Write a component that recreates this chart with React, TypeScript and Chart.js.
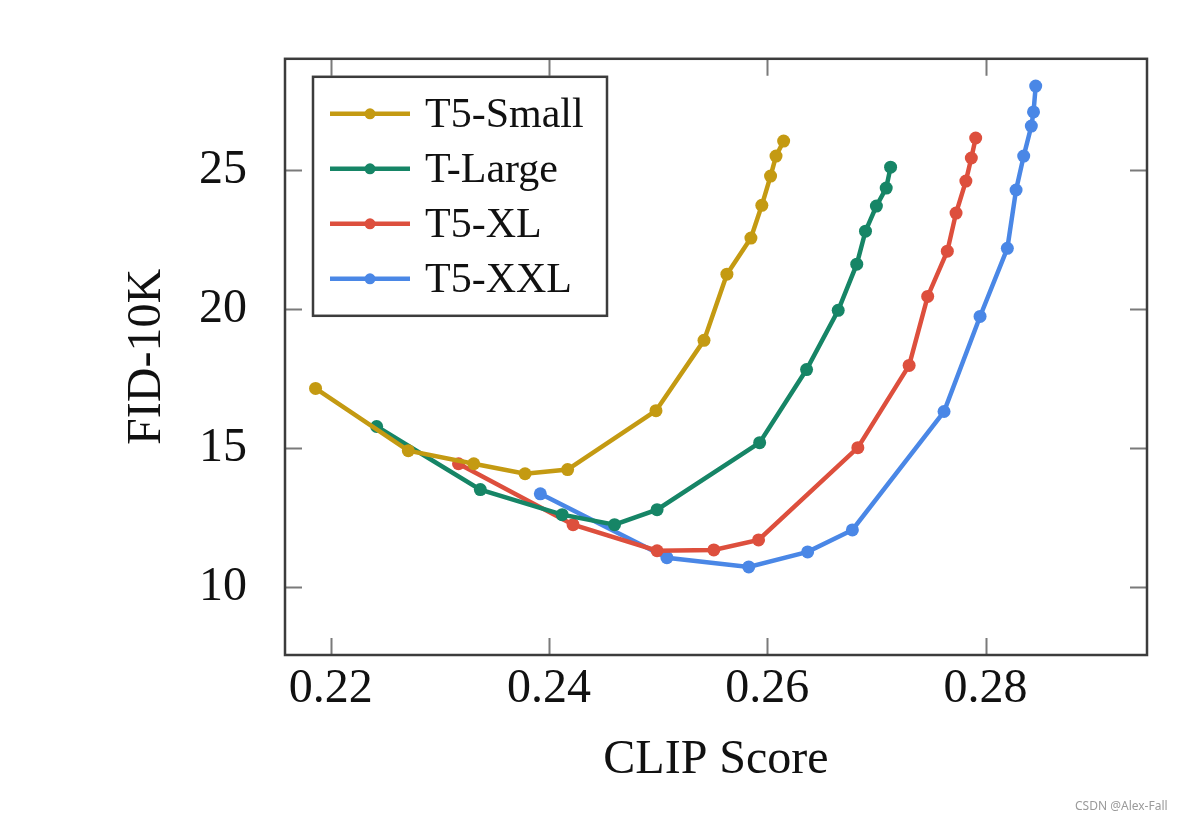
import React, { useEffect, useRef } from "react";
import { Chart, registerables } from "chart.js";

Chart.register(...registerables);

const seriesNames = ["T5-Small", "T-Large", "T5-XL", "T5-XXL"];
const seriesColors = ["#c49a12", "#168566", "#dd4f3d", "#4a87e6"];

const smallClip = [0.2186, 0.2271, 0.2331, 0.2378, 0.2417, 0.2498, 0.2542, 0.2563, 0.2585, 0.2595, 0.2603, 0.2608, 0.2615];
const smallFid = [17.14, 14.9, 14.43, 14.07, 14.22, 16.34, 18.87, 21.25, 22.55, 23.73, 24.78, 25.5, 26.04];

const largeClip = [0.2242, 0.2337, 0.2412, 0.246, 0.2499, 0.2593, 0.2636, 0.2665, 0.2682, 0.269, 0.27, 0.2709, 0.2713];
const largeFid = [15.77, 13.5, 12.6, 12.24, 12.78, 15.19, 17.82, 19.95, 21.61, 22.8, 23.7, 24.35, 25.1];

const xlClip = [0.2317, 0.2422, 0.2499, 0.2551, 0.2592, 0.2683, 0.273, 0.2747, 0.2765, 0.2773, 0.2782, 0.2787, 0.2791];
const xlFid = [14.43, 12.24, 11.3, 11.33, 11.69, 15.01, 17.97, 20.45, 22.08, 23.45, 24.6, 25.43, 26.15];

const xxlClip = [0.2392, 0.2508, 0.2583, 0.2637, 0.2678, 0.2762, 0.2795, 0.282, 0.2828, 0.2835, 0.2842, 0.2844, 0.2846];
const xxlFid = [13.35, 11.05, 10.72, 11.26, 12.05, 16.31, 19.73, 22.18, 24.28, 25.5, 26.58, 27.09, 28.02];

const xTicks = [0.22, 0.24, 0.26, 0.28];
const yTicks = [10, 15, 20, 25];
const xTitle = "CLIP Score";
const yTitle = "FID-10K";

const SERIF = "'Liberation Serif', 'DejaVu Serif', serif";

const frameAndLegend = {
  id: "frameAndLegend",
  beforeDatasetsDraw(chart: any) {
    const { ctx, chartArea: a, scales } = chart;
    const tl = 17;
    ctx.save();
    ctx.strokeStyle = "#7a7a7a";
    ctx.lineWidth = 2;
    ctx.beginPath();
    for (const v of xTicks) {
      const px = Math.round(scales.x.getPixelForValue(v)) + 0.5;
      ctx.moveTo(px, a.bottom);
      ctx.lineTo(px, a.bottom - tl);
      ctx.moveTo(px, a.top);
      ctx.lineTo(px, a.top + tl);
    }
    for (const v of yTicks) {
      const py = Math.round(scales.y.getPixelForValue(v)) + 0.5;
      ctx.moveTo(a.left, py);
      ctx.lineTo(a.left + tl, py);
      ctx.moveTo(a.right, py);
      ctx.lineTo(a.right - tl, py);
    }
    ctx.stroke();
    ctx.strokeStyle = "#3c3c3c";
    ctx.lineWidth = 2.5;
    ctx.strokeRect(a.left, a.top, a.right - a.left, a.bottom - a.top);
    ctx.restore();
  },
  afterDatasetsDraw(chart: any) {
    const { ctx, chartArea: a } = chart;
    const bx = a.left + 28;
    const by = a.top + 18;
    const bw = 294;
    const bh = 239;
    ctx.save();
    ctx.fillStyle = "#ffffff";
    ctx.fillRect(bx, by, bw, bh);
    ctx.strokeStyle = "#3c3c3c";
    ctx.lineWidth = 2.5;
    ctx.strokeRect(bx, by, bw, bh);
    ctx.font = "42px " + SERIF;
    ctx.textBaseline = "middle";
    ctx.textAlign = "left";
    chart.data.datasets.forEach((ds: any, i: number) => {
      const cy = by + 37 + i * 55;
      ctx.strokeStyle = ds.borderColor;
      ctx.lineWidth = 4.5;
      ctx.beginPath();
      ctx.moveTo(bx + 17, cy);
      ctx.lineTo(bx + 97, cy);
      ctx.stroke();
      ctx.fillStyle = ds.borderColor;
      ctx.beginPath();
      ctx.arc(bx + 57, cy, 5.5, 0, Math.PI * 2);
      ctx.fill();
      ctx.fillStyle = "#111111";
      ctx.fillText(ds.label, bx + 112, cy + 2);
    });
    ctx.restore();
  },
};

function pts(xs: number[], ys: number[]) {
  return xs.map((x, i) => ({ x, y: ys[i] }));
}

export default function App() {
  const ref = useRef<HTMLCanvasElement | null>(null);
  useEffect(() => {
    if (!ref.current) return;
    const allX = [smallClip, largeClip, xlClip, xxlClip];
    const allY = [smallFid, largeFid, xlFid, xxlFid];
    const chart = new Chart(ref.current, {
      type: "line",
      data: {
        datasets: seriesNames.map((name, i) => ({
          label: name,
          data: pts(allX[i], allY[i]),
          borderColor: seriesColors[i],
          backgroundColor: seriesColors[i],
          borderWidth: 4.5,
          pointRadius: 6.5,
          pointBorderWidth: 0,
          pointBackgroundColor: seriesColors[i],
          tension: 0,
          fill: false,
        })),
      },
      options: {
        animation: false,
        responsive: false,
        maintainAspectRatio: false,
        layout: { padding: { left: 100, right: 51, top: 58, bottom: 0 } },
        plugins: { legend: { display: false }, tooltip: { enabled: false } },
        scales: {
          x: {
            type: "linear",
            min: 0.2158,
            max: 0.2948,
            grid: { display: false },
            border: { display: false },
            afterBuildTicks: (s: any) => {
              s.ticks = xTicks.map((v) => ({ value: v }));
            },
            afterFit: (s: any) => {
              s.height = 165;
            },
            ticks: {
              padding: 2,
              color: "#111111",
              font: { family: SERIF, size: 48, lineHeight: 1 },
              maxRotation: 0,
              callback: (v: any) => Number(v).toFixed(2),
            },
            title: {
              display: true,
              text: xTitle,
              color: "#111111",
              font: { family: SERIF, size: 48 },
              padding: { top: 0, bottom: 31 },
            },
          },
          y: {
            type: "linear",
            min: 7.55,
            max: 29.0,
            grid: { display: false },
            border: { display: false },
            afterBuildTicks: (s: any) => {
              s.ticks = yTicks.map((v) => ({ value: v }));
            },
            afterFit: (s: any) => {
              s.width = 185;
            },
            ticks: {
              padding: 30,
              color: "#111111",
              font: { family: SERIF, size: 48 },
              callback: (v: any) => String(v),
            },
            title: {
              display: true,
              text: yTitle,
              color: "#111111",
              font: { family: SERIF, size: 48 },
              padding: { top: 19, bottom: 0 },
            },
          },
        },
      },
      plugins: [frameAndLegend],
    });
    return () => chart.destroy();
  }, []);

  return (
    <div style={{ position: "fixed", left: 0, top: 0, width: 1198, height: 820, background: "#ffffff" }}>
      <canvas ref={ref} width={1198} height={820} style={{ display: "block" }} />
      <div
        style={{
          position: "absolute",
          left: 1075,
          top: 797,
          fontFamily: "'Noto Sans', sans-serif",
          fontSize: 12,
          color: "#9a9a9a",
        }}
      >
        CSDN @Alex-Fall
      </div>
    </div>
  );
}
